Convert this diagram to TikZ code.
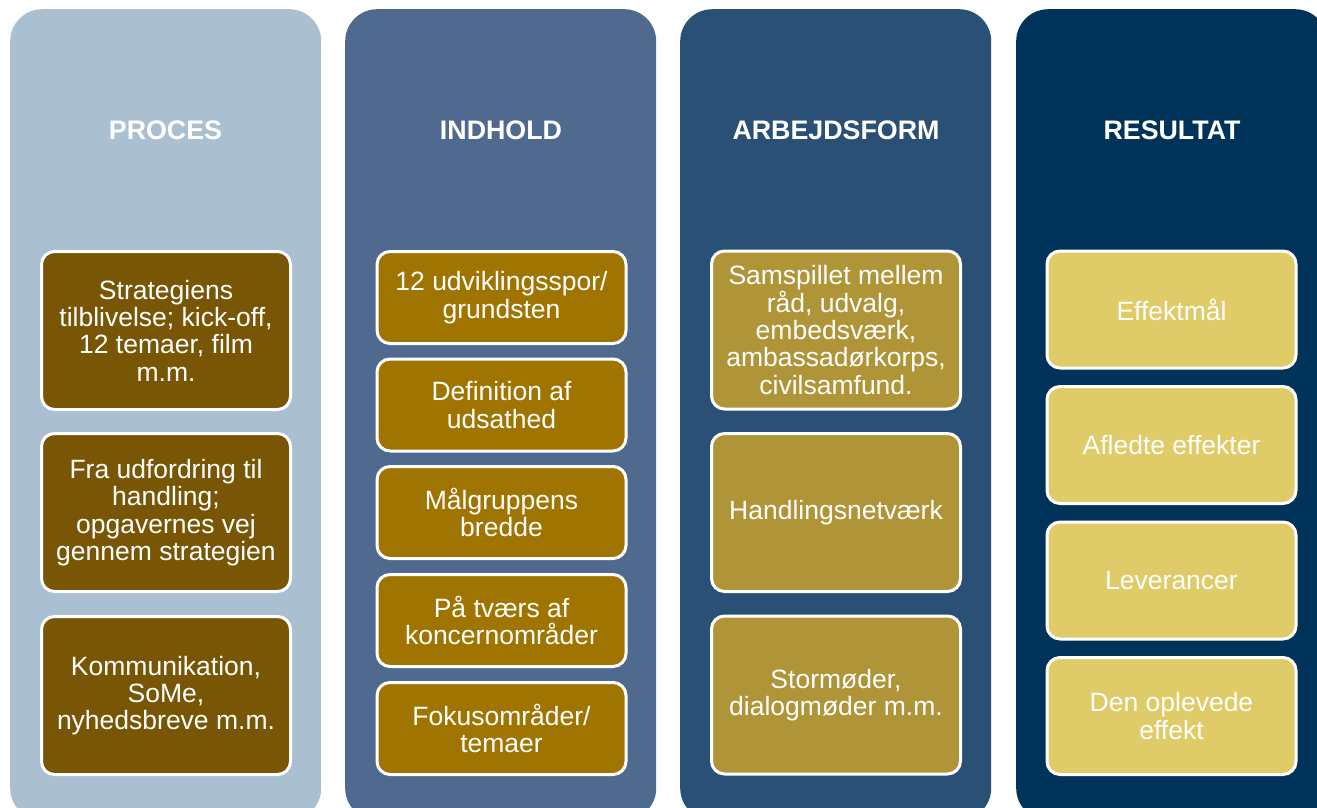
\documentclass[tikz,border=0pt]{standalone}
\usepackage{fontspec}
\setmainfont{Liberation Sans}
\definecolor{colA}{RGB}{170,191,208}
\definecolor{colB}{RGB}{79,106,142}
\definecolor{colC}{RGB}{42,80,117}
\definecolor{colD}{RGB}{0,51,89}
\definecolor{boxA}{RGB}{120,86,5}
\definecolor{boxB}{RGB}{160,116,0}
\definecolor{boxC}{RGB}{176,148,56}
\definecolor{boxD}{RGB}{223,203,103}
\tikzset{
  column/.style={rounded corners=32pt, inner sep=0pt, anchor=north west, minimum width=311pt, minimum height=811pt},
  header/.style={text=white, font=\bfseries\fontsize{26.8}{30}\selectfont},
  card/.style={draw=white, line width=3pt, rounded corners=13pt, text=white, align=center,
    inner sep=0pt, font=\fontsize{26.5}{27.3}\selectfont, minimum width=249pt},
}
\begin{document}
\begin{tikzpicture}[x=1pt,y=-1pt]
\useasboundingbox (0,0) rectangle (1317,807);
\clip (0,0) rectangle (1317,807);
\fill[white] (0,0) rectangle (1317,807);
% columns
\node[column, fill=colA] (c1) at (10,9) {};
\node[column, fill=colB] (c2) at (345,9) {};
\node[column, fill=colC] (c3) at (680,9) {};
\node[column, fill=colD] (c4) at (1016,9) {};
% headers
\node[header] (h1) at (165.5,130) {PROCES};
\node[header] (h2) at (501,130) {INDHOLD};
\node[header] (h3) at (836,130) {ARBEJDSFORM};
\node[header] (h4) at (1172,130) {RESULTAT};
% column 1
\tikzset{c1card/.style={card, fill=boxA, minimum height=158pt}}
\node[c1card] (p1) at (166,330.5) {Strategiens\\tilblivelse; kick-off,\\12 temaer, film\\m.m.};
\node[c1card] (p2) at (166,512.5) {Fra udfordring til\\handling;\\opgavernes vej\\gennem strategien};
\node[c1card] (p3) at (166,695.5) {Kommunikation,\\SoMe,\\nyhedsbreve m.m.};
% column 2
\tikzset{c2card/.style={card, fill=boxB, minimum height=92pt}}
\node[c2card] (i1) at (501.5,297.5) {12 udviklingsspor/\\grundsten};
\node[c2card] (i2) at (501.5,405) {Definition af\\udsathed};
\node[c2card] (i3) at (501.5,512.5) {Målgruppens\\bredde};
\node[c2card] (i4) at (501.5,620.5) {På tværs af\\koncernområder};
\node[c2card] (i5) at (501.5,728.5) {Fokusområder/\\temaer};
% column 3
\tikzset{c3card/.style={card, fill=boxC, minimum height=158pt}}
\node[c3card] (a1) at (836,330) {Samspillet mellem\\råd, udvalg,\\embedsværk,\\ambassadørkorps,\\civilsamfund.};
\node[c3card] (a2) at (836,512.5) {Handlingsnetværk};
\node[c3card] (a3) at (836,695) {Stormøder,\\dialogmøder m.m.};
% column 4
\tikzset{c4card/.style={card, fill=boxD, minimum height=117pt}}
\node[c4card] (r1) at (1171.5,309.5) {Effektmål};
\node[c4card] (r2) at (1171.5,445) {Afledte effekter};
\node[c4card] (r3) at (1171.5,580.5) {Leverancer};
\node[c4card] (r4) at (1171.5,716) {Den oplevede\\effekt};
\end{tikzpicture}
\end{document}
